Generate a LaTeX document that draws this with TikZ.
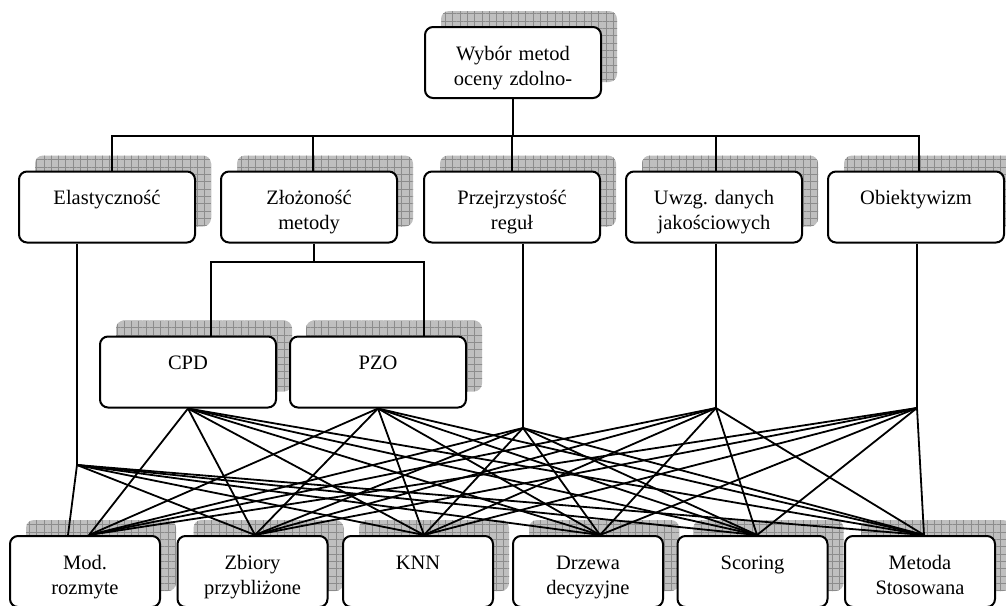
\documentclass[tikz,border=0pt]{standalone}
\usepackage{fontspec}
\setmainfont{Liberation Serif}
\usetikzlibrary{shadows,patterns.meta}
\tikzset{%
        x = 1pt,
        y = -1pt
}
\tikzstyle{every node}=[font=\fontsize{20.5}{25}\selectfont]
\tikzstyle{crit}=[
    draw = black,
    fill = white,
    line width = 2pt,
    rounded corners = 8pt,
    minimum width = 176pt,
    minimum height = 71pt,
    text width = 170pt,
    align = center,
    inner sep = 0pt,
    execute at begin node = \rule{0pt}{28pt},
    execute at end node = \strut,
    general shadow = {shadow xshift=16pt, shadow yshift=16pt, fill=gray!50,
        postaction={pattern={Hatch[distance=7.3pt, angle=0, line width=0.5pt]},
        pattern color=gray!90}}
]
\tikzstyle{meth}=[
    crit,
    minimum width = 150pt,
    text width = 144pt
]

\begin{document}
\begin{tikzpicture}[line width=1.8pt]
            \useasboundingbox (0,0) rectangle (1006,605);
            \clip (0,0) rectangle (1006,605);
            % goal and criteria
            \node[crit] (goal) at (513, 62.5) {Wybór metod\\oceny zdolno-};
            \node[crit] (elast) at (107, 207) {Elastyczność\\};
            \node[crit] (zloz) at (309, 207) {Złożoność\\metody};
            \node[crit] (przej) at (512, 207) {Przejrzystość\\reguł};
            \node[crit] (uwzg) at (714, 207) {Uwzg.\ danych\\jakościowych};
            \node[crit] (obiek) at (916, 207) {Obiektywizm\\};
            \node[crit] (cpd) at (188, 372) {CPD\\};
            \node[crit] (pzo) at (378, 372) {PZO\\};
            % methods
            \node[meth] (mod) at (85, 571.5) {Mod.\\rozmyte};
            \node[meth] (zbio) at (252.5, 571.5) {Zbiory\\przybliżone};
            \node[meth] (knn) at (418, 571.5) {KNN\\};
            \node[meth] (drze) at (588, 571.5) {Drzewa\\decyzyjne};
            \node[meth] (scor) at (752.5, 571.5) {Scoring\\};
            \node[meth] (meto) at (920, 571.5) {Metoda\\Stosowana};

            \coordinate (bus) at (513, 136);
            \coordinate (zbus) at (314, 262);
            \coordinate (helast) at (77, 465);
            \coordinate (hprzej) at (523, 428);
            \coordinate (huwzg) at (716, 408);
            \coordinate (hobiek) at (917, 408);
            \coordinate (tmod) at ([xshift=4pt]mod.north);
            \coordinate (tzbio) at ([xshift=2.5pt]zbio.north);
            \coordinate (tknn) at ([xshift=6pt]knn.north);
            \coordinate (tdrze) at ([xshift=12pt]drze.north);
            \coordinate (tscor) at ([xshift=4.5pt]scor.north);
            \coordinate (tmeto) at ([xshift=4pt]meto.north);

            \draw (goal.south) -- (bus);
            \draw ([xshift=5pt]elast.north) |- (bus);
            \draw ([xshift=4pt]zloz.north) |- (bus);
            \draw (przej.north) |- (bus);
            \draw ([xshift=2pt]uwzg.north) |- (bus);
            \draw ([xshift=3pt]obiek.north) |- (bus);

            \draw ([xshift=5pt]zloz.south) -- (zbus);
            \draw ([xshift=23pt]cpd.north) |- (zbus);
            \draw ([xshift=46pt]pzo.north) |- (zbus);

            \draw ([xshift=-30pt]elast.south) -- (helast);
            \draw ([xshift=11pt]przej.south) -- (hprzej);
            \draw ([xshift=2pt]uwzg.south) -- (huwzg);
            \draw ([xshift=1pt]obiek.south) -- (hobiek);

            \draw (helast) -- ([xshift=-17pt]mod.north);
            \foreach \t in {tzbio, tknn, tdrze, tscor, tmeto}
                \draw (helast) -- (\t);
            \foreach \h in {cpd.south, pzo.south, hprzej, huwzg, hobiek}
                \foreach \t in {tmod, tzbio, tknn, tdrze, tscor, tmeto}
                    \draw (\h) -- (\t);
        \end{tikzpicture}
\end{document}
